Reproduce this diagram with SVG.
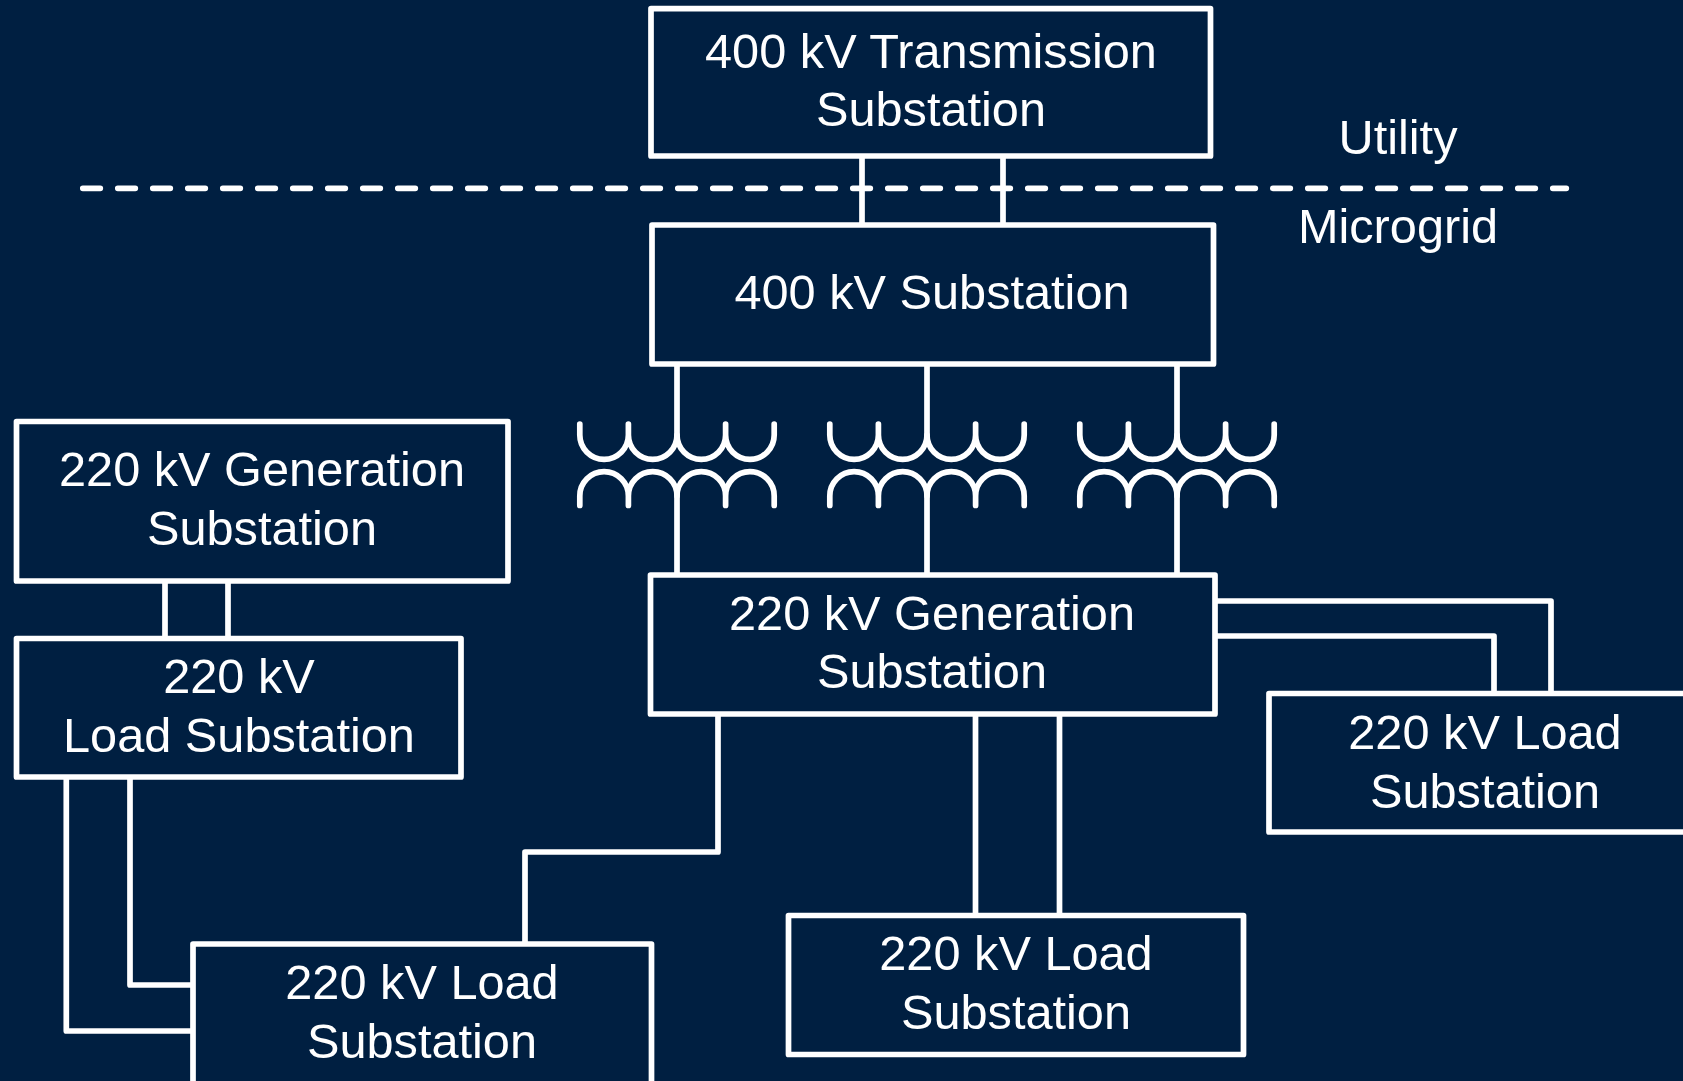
<svg xmlns="http://www.w3.org/2000/svg" width="1683" height="1081" viewBox="0 0 1683 1081">
<style>
.b{fill:#001F41;stroke:#fff;stroke-width:5.700;stroke-linejoin:round}
.c{fill:none;stroke:#fff;stroke-width:5.700;stroke-linecap:round;stroke-linejoin:round}
text{font-family:"Liberation Sans",Arial,sans-serif;font-size:48.700px;fill:#fff;text-anchor:middle}
</style>
<defs>
<path id="tx" class="c" d="M-97.200 0V11A24.300 24.300 0 0 0 -48.600 11V0M-48.600 11A24.300 24.300 0 0 0 0 11A24.300 24.300 0 0 0 48.600 11V0M48.600 11A24.300 24.300 0 0 0 97.200 11V0M-97.200 81.500V72A24.300 24.300 0 0 1 -48.600 72V81.500M-48.600 72A24.300 24.300 0 0 1 0 72A24.300 24.300 0 0 1 48.600 72V81.500M48.600 72A24.300 24.300 0 0 1 97.200 72V81.500"/>
</defs>
<rect width="1683" height="1081" fill="#001F41"/>
<g id="connectors">
<path class="c" style="stroke-dasharray:17.500 17.500" d="M82.800 188.300H1566.300"/>
<path class="c" d="M862 156V225M1003 156V225M677 364V436M927 364V436M1177 364V436M677 489V574M927 489V574M1177 489V574M165 581V638M228 581V638M66.300 777V1031H193M130 777V985H193M718 714V852H525V944M975.500 714V915M1059.500 714V915M1215 601H1551V693M1215 636H1494V693"/>
<use href="#tx" x="677" y="424"/><use href="#tx" x="927" y="424"/><use href="#tx" x="1177" y="424"/>
</g>
<g id="n-transmission"><rect class="b" x="651" y="8.600" width="559.500" height="147.400"/><text x="931" y="68">400 kV Transmission</text><text x="931" y="126">Substation</text></g>
<g id="n-400"><rect class="b" x="652" y="225" width="561.500" height="139"/><text x="932" y="309">400 kV Substation</text></g>
<g id="n-gen-left"><rect class="b" x="16.500" y="421.500" width="491.500" height="159.500"/><text x="262" y="486">220 kV Generation</text><text x="262" y="545">Substation</text></g>
<g id="n-load-left"><rect class="b" x="16.500" y="638.500" width="444.500" height="138.500"/><text x="239" y="693">220 kV</text><text x="239" y="752">Load Substation</text></g>
<g id="n-gen-center"><rect class="b" x="650.500" y="575" width="564.500" height="139"/><text x="932" y="630">220 kV Generation</text><text x="932" y="688">Substation</text></g>
<g id="n-load-right"><rect class="b" x="1269" y="693.500" width="430" height="138.500"/><text x="1485" y="749">220 kV Load</text><text x="1485" y="807.500">Substation</text></g>
<g id="n-load-center"><rect class="b" x="788.500" y="915.500" width="455" height="139"/><text x="1016" y="970">220 kV Load</text><text x="1016" y="1029">Substation</text></g>
<g id="n-load-bottom"><rect class="b" x="193" y="944" width="458.500" height="150"/><text x="422" y="999">220 kV Load</text><text x="422" y="1058">Substation</text></g>
<text x="1398" y="154">Utility</text>
<text x="1398" y="243">Microgrid</text>
</svg>
